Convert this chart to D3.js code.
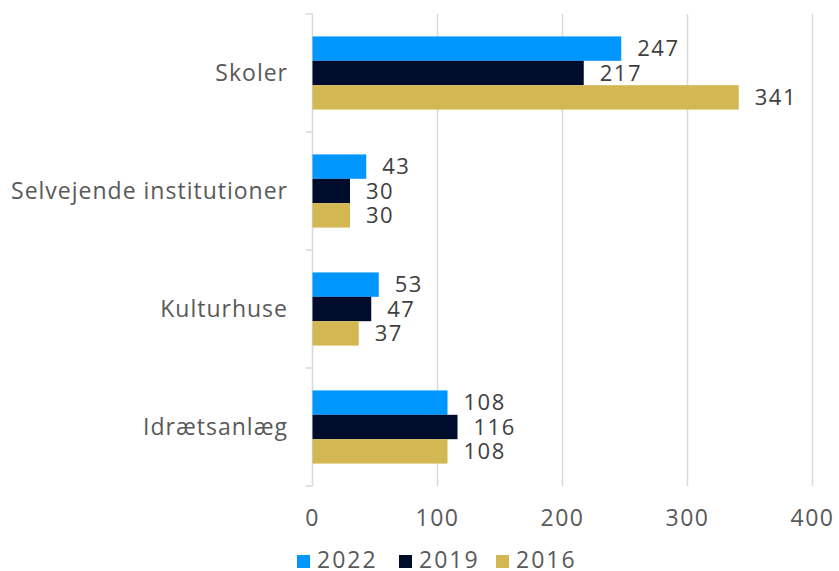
<!DOCTYPE html>
<html>
<head>
<meta charset="utf-8">
<script src="https://cdn.jsdelivr.net/npm/d3@7"></script>
<style>
  body { margin: 0; background: #fff; }
  svg text { font-family: "Open Sans", "Lato", sans-serif; fill: #595959; }
</style>
</head>
<body>
<svg width="839" height="571"></svg>
<script>
// data
var categories = ["Skoler", "Selvejende institutioner", "Kulturhuse", "Idrætsanlæg"];
var seriesNames = ["2022", "2019", "2016"];
var values2022 = [247, 43, 53, 108];
var values2019 = [217, 30, 47, 116];
var values2016 = [341, 30, 37, 108];
var xTicks = [0, 100, 200, 300, 400];
var colors = ["#0096FF", "#000C2B", "#D3B753"];

var allValues = [values2022, values2019, values2016];

var svg = d3.select("svg");

var x = d3.scaleLinear().domain([0, 400]).range([312.5, 812.5]);
var y0 = d3.scaleBand().domain(categories).range([14, 486]);
var bw = y0.bandwidth();
var y1 = d3.scaleBand().domain(seriesNames).range([bw * 0.19, bw * 0.81]);

// gridlines
svg.append("g")
  .selectAll("line")
  .data(xTicks.slice(1))
  .join("line")
  .attr("x1", d => x(d)).attr("x2", d => x(d))
  .attr("y1", 14).attr("y2", 486)
  .attr("stroke", "#D9D9D9")
  .attr("stroke-width", 1.5);

// left axis with band boundary ticks
svg.append("line")
  .attr("x1", x(0)).attr("x2", x(0))
  .attr("y1", 14).attr("y2", 486)
  .attr("stroke", "#D9D9D9").attr("stroke-width", 1.5);

var bounds = categories.map(c => y0(c)).concat([486]);
svg.append("g")
  .selectAll("line")
  .data(bounds)
  .join("line")
  .attr("x1", x(0) - 7).attr("x2", x(0))
  .attr("y1", d => d).attr("y2", d => d)
  .attr("stroke", "#D9D9D9").attr("stroke-width", 1.5);

// bars
var groups = svg.append("g")
  .selectAll("g")
  .data(seriesNames)
  .join("g")
  .attr("fill", (d, i) => colors[i]);

groups.selectAll("rect")
  .data((s, i) => allValues[i].map((v, j) => ({ s: s, v: v, c: categories[j] })))
  .join("rect")
  .attr("x", x(0))
  .attr("y", d => y0(d.c) + y1(d.s))
  .attr("width", d => x(d.v) - x(0))
  .attr("height", y1.bandwidth());

// value labels
groups.selectAll("text")
  .data((s, i) => allValues[i].map((v, j) => ({ s: s, v: v, c: categories[j] })))
  .join("text")
  .attr("x", d => x(d.v) + 16)
  .attr("y", d => y0(d.c) + y1(d.s) + y1.bandwidth() / 2)
  .attr("dy", "0.35em")
  .style("font-size", "22px")
  .style("letter-spacing", "1.5px")
  .style("fill", "#404040")
  .text(d => d.v);

// category labels
svg.append("g")
  .selectAll("text")
  .data(categories)
  .join("text")
  .attr("x", 288)
  .attr("y", d => y0(d) + bw / 2)
  .attr("dy", "0.36em")
  .attr("text-anchor", "end")
  .style("font-size", "23px")
  .style("letter-spacing", "1px")
  .text(d => d);

// x tick labels
svg.append("g")
  .selectAll("text")
  .data(xTicks)
  .join("text")
  .attr("x", d => x(d))
  .attr("y", 526)
  .attr("text-anchor", "middle")
  .style("font-size", "23px")
  .style("letter-spacing", "1.5px")
  .text(d => d);

// legend
var legendX = [297, 399, 496];
var legend = svg.append("g")
  .selectAll("g")
  .data(seriesNames)
  .join("g")
  .attr("transform", (d, i) => "translate(" + legendX[i] + ",555)");
legend.append("rect")
  .attr("width", 13).attr("height", 13)
  .attr("fill", (d, i) => colors[i]);
legend.append("text")
  .attr("x", 20).attr("y", 13)
  .style("font-size", "23px")
  .style("letter-spacing", "2px")
  .text(d => d);
</script>
</body>
</html>
